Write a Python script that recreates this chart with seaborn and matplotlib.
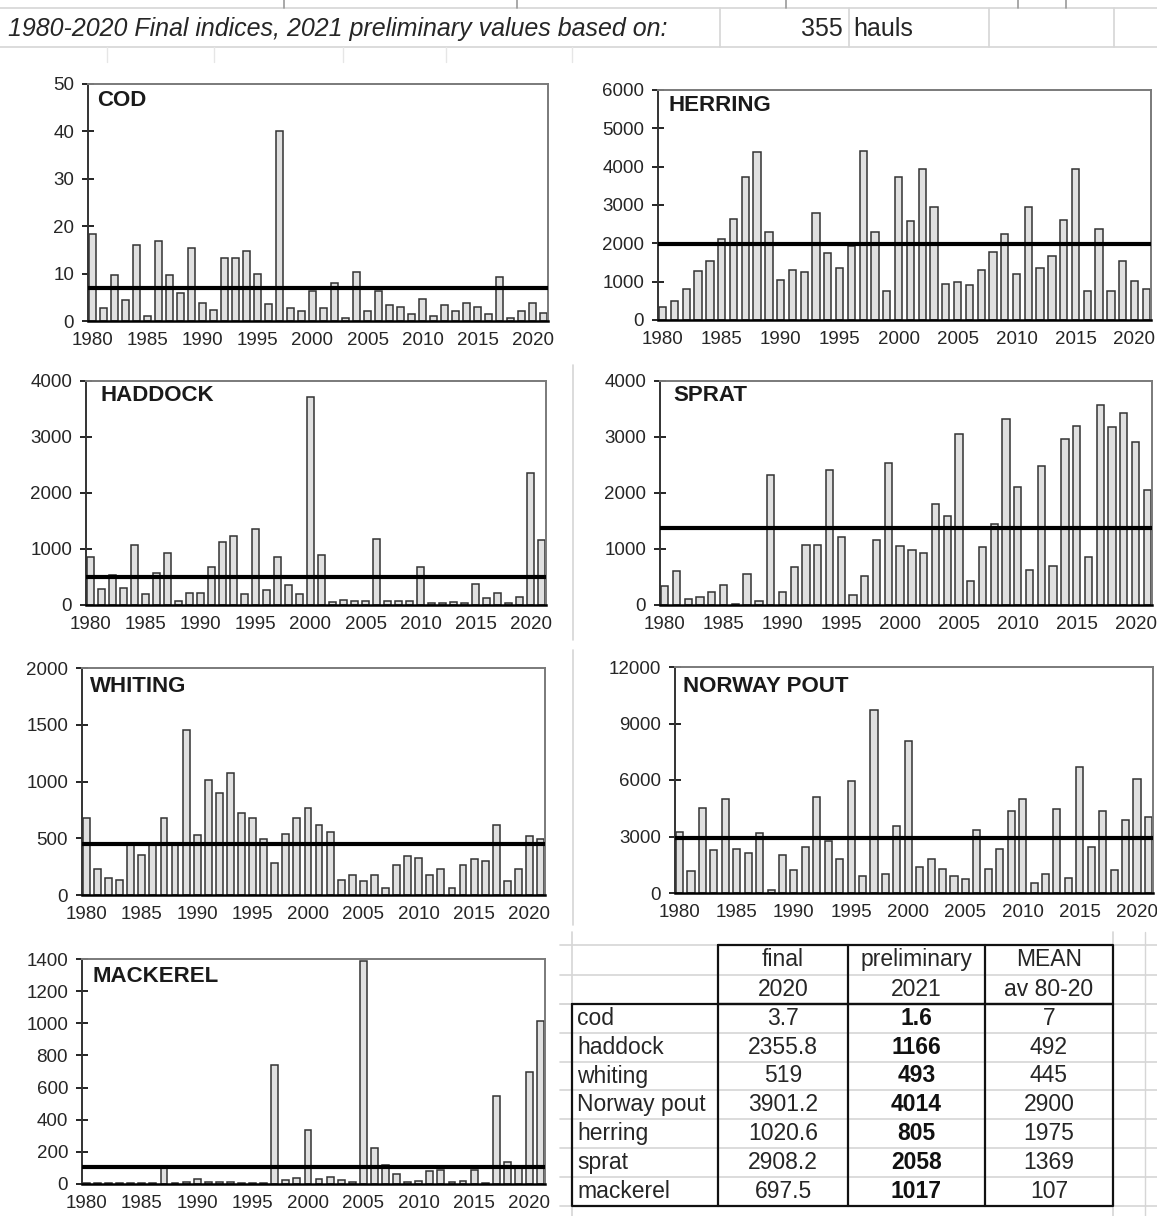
import matplotlib
matplotlib.use("Agg")
import matplotlib.pyplot as plt
import seaborn as sns

# ---------------- data ----------------
years = list(range(1980, 2022))

cod = [18.3, 2.8, 9.8, 4.5, 16.1, 1.0, 16.9, 9.8, 5.9, 15.5,
       3.8, 2.4, 13.3, 13.3, 14.7, 9.9, 3.6, 40.0, 2.8, 2.1,
       6.4, 2.8, 8.0, 0.7, 10.3, 2.1, 6.4, 3.4, 2.9, 1.5,
       4.7, 1.1, 3.4, 2.2, 3.8, 2.9, 1.5, 9.3, 0.6, 2.1,
       3.7, 1.6]
herring = [330, 500, 810, 1270, 1530, 2110, 2630, 3720, 4370, 2290,
           1040, 1300, 1260, 2780, 1750, 1350, 1930, 4420, 2290, 765,
           3720, 2590, 3940, 2960, 940, 980, 910, 1300, 1770, 2240,
           1200, 2960, 1350, 1660, 2610, 3940, 765, 2370, 765, 1530,
           1020.6, 805]
haddock = [860, 280, 530, 310, 1070, 200, 580, 920, 80, 210,
           210, 680, 1120, 1240, 200, 1350, 270, 860, 360, 200,
           3720, 890, 60, 90, 65, 65, 1170, 80, 65, 65,
           680, 30, 30, 60, 30, 380, 120, 210, 30, 150,
           2355.8, 1166]
sprat = [340, 600, 100, 140, 240, 360, 20, 550, 80, 2320,
         240, 680, 1070, 1070, 2410, 1220, 180, 520, 1160, 2530,
         1060, 980, 920, 1810, 1590, 3050, 420, 1040, 1440, 3330,
         2110, 630, 2480, 700, 2970, 3200, 860, 3570, 3180, 3420,
         2908.2, 2058]
whiting = [680, 225, 150, 135, 445, 350, 440, 680, 440, 1450,
           525, 1010, 900, 1075, 725, 680, 490, 280, 540, 680,
           770, 620, 555, 135, 180, 120, 180, 60, 265, 345,
           330, 180, 225, 60, 265, 315, 300, 620, 120, 225,
           519, 493]
norway_pout = [3260, 1150, 4530, 2290, 4970, 2350, 2120, 3180, 180, 2000,
               1240, 2440, 5080, 2770, 1820, 5960, 880, 9700, 1020, 3560,
               8080, 1380, 1820, 1270, 880, 740, 3350, 1270, 2330, 4360,
               4970, 530, 1000, 4460, 790, 6700, 2420, 4360, 1200, 3900,
               6050, 4014]
mackerel = [4, 4, 4, 4, 4, 4, 4, 105, 6, 10,
            30, 10, 15, 10, 5, 5, 5, 740, 25, 35,
            337, 30, 45, 25, 10, 1385, 222, 120, 62, 10,
            20, 80, 90, 10, 20, 90, 5, 550, 135, 100,
            697.5, 1017]

# summary table
table_species = ["cod", "haddock", "whiting", "Norway pout", "herring", "sprat", "mackerel"]
final_2020 = ["3.7", "2355.8", "519", "3901.2", "1020.6", "2908.2", "697.5"]
prelim_2021 = ["1.6", "1166", "493", "4014", "805", "2058", "1017"]
mean_80_20 = [7, 492, 445, 2900, 1975, 1369, 107]

header_text = "1980-2020 Final indices, 2021 preliminary values based on:"
n_hauls = 355

# ---------------- figure ----------------
sns.set_theme(style="white")
plt.rcParams["font.family"] = ["Liberation Sans", "DejaVu Sans"]

W, H = 1157, 1216
fig = plt.figure(figsize=(W / 100, H / 100), dpi=100)
fig.patch.set_facecolor("white")

# spreadsheet layer (pixel coordinates, y downward)
bg = fig.add_axes([0, 0, 1, 1], zorder=-5)
bg.set_xlim(0, W)
bg.set_ylim(H, 0)
bg.axis("off")

GRID = "#d6d6d6"
TXT = "#262626"
# header row of the sheet
for y in (8, 47):
    bg.plot([0, W], [y, y], color=GRID, lw=1.2)
for x in (720, 849, 989, 1114):
    bg.plot([x, x], [8, 47], color=GRID, lw=1.2)
for x in (107, 214, 343, 446, 572):
    bg.plot([x, x], [47, 62], color="#e6e6e6", lw=1.0)
for x in (284, 517, 786, 1018, 1066):
    bg.plot([x, x], [0, 8], color="#9a9a9a", lw=1.2)
bg.text(8, 29, header_text, fontsize=18, style="italic", va="center", ha="left", color=TXT)
bg.text(843, 29, str(n_hauls), fontsize=18, va="center", ha="right", color=TXT)
bg.text(853, 29, "hauls", fontsize=18, va="center", ha="left", color=TXT)
# column divider between the chart columns
bg.plot([573, 573], [365, 640], color=GRID, lw=1.2)
bg.plot([573, 573], [650, 925], color=GRID, lw=1.2)


def add_panel(name, values, mean, ymax, step, box, title_px):
    l, t, r, b = box
    ax = fig.add_axes([l / W, 1 - b / H, (r - l) / W, (b - t) / H])
    sns.barplot(x=years, y=values, ax=ax, native_scale=True, color="#e0e0e0",
                edgecolor="#333333", linewidth=1.1, width=0.62, saturation=1,
                errorbar=None)
    ax.axhline(mean, color="black", lw=3, zorder=5)
    ax.set_xlim(1979.6, 2021.4)
    ax.set_ylim(0, ymax)
    ax.set_xticks(list(range(1980, 2021, 5)))
    ax.set_xticklabels([str(y) for y in range(1980, 2021, 5)])
    ax.set_yticks(list(range(0, ymax + 1, step)))
    ax.set_xlabel("")
    ax.set_ylabel("")
    ax.tick_params(axis="y", direction="inout", length=8, width=1.2, color="black",
                   labelsize=13.5, pad=6, labelcolor=TXT, left=True)
    ax.tick_params(axis="x", length=0, labelsize=13.5, pad=8, labelcolor=TXT, bottom=True)
    ax.set_xticks([2004.5], minor=True)
    ax.tick_params(axis="x", which="minor", direction="out", length=5, width=1.5, color="black")
    for side in ("top", "right"):
        ax.spines[side].set_color("#7a7a7a")
        ax.spines[side].set_linewidth(1.4)
    ax.spines["left"].set_color("#333333")
    ax.spines["left"].set_linewidth(1.4)
    ax.spines["bottom"].set_color("black")
    ax.spines["bottom"].set_linewidth(1.8)
    tx, ty = title_px
    ax.text((tx - l) / (r - l), (b - ty) / (b - t), name, transform=ax.transAxes,
            fontsize=16, fontweight="bold", ha="left", va="center", color="#1a1a1a",
            zorder=6)
    return ax


add_panel("COD", cod, mean_80_20[0], 50, 10, (88, 84, 548, 321), (97, 101))
add_panel("HERRING", herring, mean_80_20[4], 6000, 1000, (658, 90, 1151, 320), (668, 106))
add_panel("HADDOCK", haddock, mean_80_20[1], 4000, 1000, (86, 381, 546, 605), (100, 396))
add_panel("SPRAT", sprat, mean_80_20[5], 4000, 1000, (660, 381, 1152, 605), (673, 396))
add_panel("WHITING", whiting, mean_80_20[2], 2000, 500, (82, 668, 545, 895), (90, 686))
add_panel("NORWAY POUT", norway_pout, mean_80_20[3], 12000, 3000, (675, 667, 1153, 893), (683, 687))
add_panel("MACKEREL", mackerel, mean_80_20[6], 1400, 200, (82, 959, 545, 1184), (92, 976))

# ---------------- summary table ----------------
cols = [572, 718, 848, 985, 1113]
hdr = [945, 974.5, 1004]
row_h = 28.8
rows = [hdr[2] + i * row_h for i in range(len(table_species) + 1)]

# light sheet grid around the table
for y in hdr + rows:
    bg.plot([560, W], [y, y], color=GRID, lw=1.2)
for x in (572, 1113):
    bg.plot([x, x], [932, 1216], color=GRID, lw=1.2)
bg.plot([1145, 1145], [932, 1216], color=GRID, lw=1.0)


def box(x0, y0, x1, y1):
    bg.plot([x0, x1, x1, x0, x0], [y0, y0, y1, y1, y0], color="#111111", lw=1.6)


box(cols[1], hdr[0], cols[4], hdr[2])
box(cols[0], hdr[2], cols[4], rows[-1])
for x in (cols[2], cols[3]):
    bg.plot([x, x], [hdr[0], rows[-1]], color="#111111", lw=1.6)
bg.plot([cols[1], cols[1]], [hdr[2], rows[-1]], color="#111111", lw=1.6)

FS = 16.5
head1 = ["final", "preliminary", "MEAN"]
head2 = ["2020", "2021", "av 80-20"]
for i in range(3):
    cx = (cols[i + 1] + cols[i + 2]) / 2
    bg.text(cx, (hdr[0] + hdr[1]) / 2, head1[i], ha="center", va="center",
            fontsize=FS, color=TXT)
    bg.text(cx, (hdr[1] + hdr[2]) / 2, head2[i], ha="center", va="center",
            fontsize=FS, color=TXT)

for j, sp in enumerate(table_species):
    cy = (rows[j] + rows[j + 1]) / 2
    bg.text(cols[0] + 5, cy, sp, ha="left", va="center", fontsize=FS, color=TXT)
    bg.text((cols[1] + cols[2]) / 2, cy, final_2020[j], ha="center", va="center",
            fontsize=FS, color=TXT)
    bg.text((cols[2] + cols[3]) / 2, cy, prelim_2021[j], ha="center", va="center",
            fontsize=FS, fontweight="bold", color="#111111")
    bg.text((cols[3] + cols[4]) / 2, cy, str(mean_80_20[j]), ha="center", va="center",
            fontsize=FS, color=TXT)

fig.savefig("out.png", dpi=100, facecolor="white")
